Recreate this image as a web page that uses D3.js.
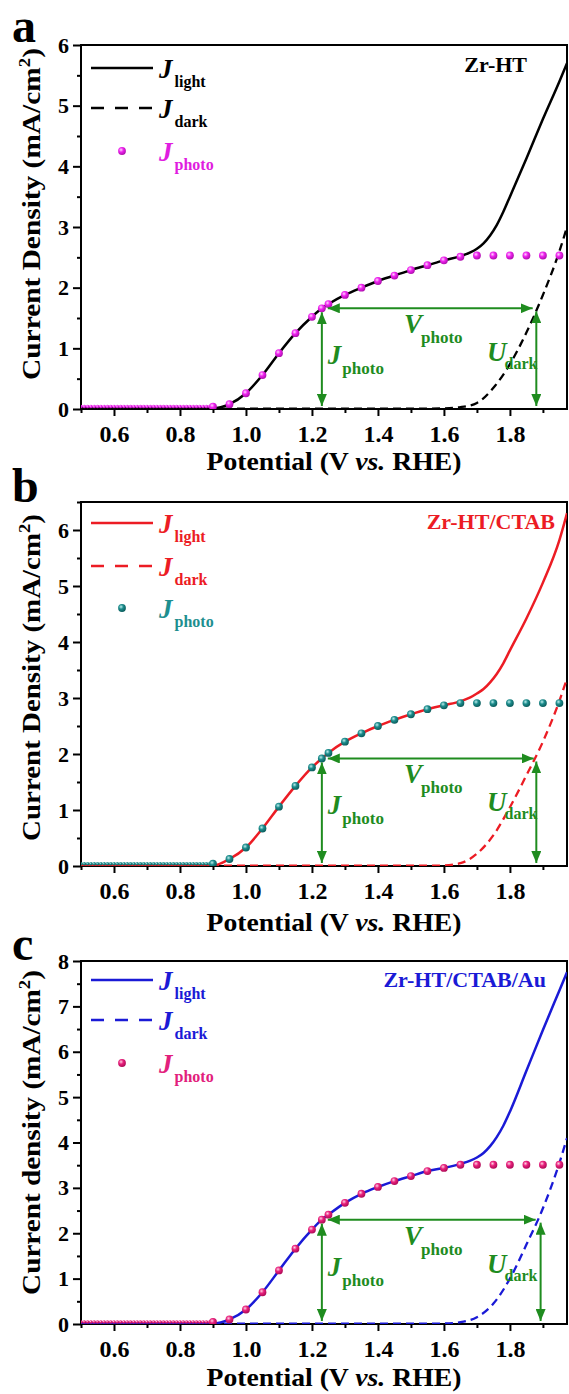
<!DOCTYPE html>
<html>
<head>
<meta charset="utf-8">
<script src="https://cdn.jsdelivr.net/npm/d3@7/dist/d3.min.js"></script>
<style>
  body { margin: 0; background: #fff; }
  svg { display: block; }
  text { font-family: "Liberation Serif", "Times New Roman", serif; font-weight: bold; }
</style>
</head>
<body>
<svg id="fig" width="569" height="1394"></svg>
<script>
// ---- Data (potential in V vs. RHE, current density in mA/cm^2) ----
const fineV = [0.50,0.51,0.52,0.53,0.54,0.55,0.56,0.57,0.58,0.59,0.60,0.61,0.62,0.63,0.64,0.65,0.66,0.67,0.68,0.69,
               0.70,0.71,0.72,0.73,0.74,0.75,0.76,0.77,0.78,0.79,0.80,0.81,0.82,0.83,0.84,0.85,0.86,0.87,0.88,0.89];
const aFine = [0.04,0.04,0.04,0.04,0.04,0.04,0.04,0.04,0.04,0.04,0.04,0.04,0.04,0.04,0.04,0.04,0.04,0.04,0.04,0.04,
               0.04,0.04,0.04,0.04,0.04,0.04,0.04,0.04,0.04,0.04,0.04,0.04,0.04,0.04,0.04,0.04,0.04,0.04,0.04,0.04];
const bFine = [0.04,0.04,0.04,0.04,0.04,0.04,0.04,0.04,0.04,0.04,0.04,0.04,0.04,0.04,0.04,0.04,0.04,0.04,0.04,0.04,
               0.04,0.04,0.04,0.04,0.04,0.04,0.04,0.04,0.04,0.04,0.04,0.04,0.04,0.04,0.04,0.04,0.04,0.04,0.04,0.04];
const cFine = [0.045,0.045,0.045,0.045,0.045,0.045,0.045,0.045,0.045,0.045,0.045,0.045,0.045,0.045,0.045,0.045,0.045,0.045,0.045,0.045,
               0.045,0.045,0.045,0.045,0.045,0.045,0.045,0.045,0.045,0.045,0.045,0.045,0.045,0.045,0.045,0.045,0.045,0.045,0.045,0.045];

const dotV   = [0.90,0.95,1.00,1.05,1.10,1.15,1.20,1.23,1.25,1.30,1.35,1.40,1.45,1.50,1.55,1.60,1.65,1.70,1.75,1.80,1.85,1.90,1.95];
const aPhoto = [0.04,0.08,0.26,0.56,0.92,1.25,1.52,1.66,1.73,1.88,2.00,2.11,2.20,2.29,2.37,2.45,2.51,2.53,2.53,2.53,2.53,2.53,2.53];
const bPhoto = [0.04,0.125,0.33,0.67,1.06,1.43,1.76,1.92,2.02,2.22,2.37,2.50,2.61,2.71,2.80,2.87,2.91,2.91,2.91,2.91,2.91,2.91,2.91];
const cPhoto = [0.045,0.10,0.32,0.70,1.18,1.66,2.08,2.30,2.41,2.67,2.87,3.02,3.15,3.26,3.37,3.44,3.51,3.51,3.51,3.51,3.51,3.51,3.51];

const lineV  = [0.50,0.70,0.90,0.95,1.00,1.05,1.10,1.15,1.20,1.23,1.25,1.30,1.35,1.40,1.45,1.50,1.55,1.60,1.65,
                1.68,1.70,1.72,1.74,1.76,1.78,1.80,1.85,1.90,1.95,1.973];
const aLight = [0.01,0.01,0.01,0.08,0.26,0.56,0.92,1.25,1.52,1.66,1.73,1.88,2.00,2.11,2.20,2.29,2.37,2.45,2.52,
                2.58,2.64,2.73,2.86,3.03,3.25,3.50,4.13,4.78,5.40,5.70];
const bLight = [0.01,0.01,0.01,0.125,0.33,0.67,1.06,1.43,1.76,1.92,2.02,2.22,2.37,2.50,2.61,2.71,2.80,2.87,2.94,
                3.01,3.08,3.16,3.28,3.43,3.62,3.85,4.42,5.06,5.82,6.30];
const cLight = [0.01,0.01,0.01,0.10,0.32,0.70,1.18,1.66,2.08,2.30,2.41,2.67,2.87,3.02,3.15,3.26,3.37,3.44,3.53,
                3.60,3.67,3.77,3.92,4.12,4.37,4.68,5.58,6.48,7.35,7.75];

const darkV  = [0.50,1.00,1.50,1.55,1.60,1.65,1.70,1.75,1.80,1.85,1.90,1.95,1.973];
const aDark  = [0.005,0.005,0.005,0.006,0.01,0.03,0.10,0.35,0.74,1.26,1.88,2.60,3.00];
const bDark  = [0.005,0.005,0.005,0.006,0.01,0.05,0.22,0.55,1.05,1.62,2.22,2.95,3.35];
const cDark  = [0.005,0.005,0.005,0.006,0.01,0.04,0.15,0.45,1.00,1.75,2.55,3.55,4.10];

// Annotation potentials: J_photo read at 1.23 V, U_dark where the dark curve reaches J_photo
const jPhotoV = 1.23;
const vPhotoStart = 1.248;
const uDarkV = [1.880, 1.880, 1.893];
const vPhotoEnd = [1.869, 1.872, 1.878];

// Axis ticks
const xMajor = [0.6,0.8,1.0,1.2,1.4,1.6,1.8];
const xMinor = [0.5,0.7,0.9,1.1,1.3,1.5,1.7,1.9];
const abYMajor = [0,1,2,3,4,5,6];
const aYMinor = [0.5,1.5,2.5,3.5,4.5,5.5];
const bYMinor = [0.5,1.5,2.5,3.5,4.5,5.5,6.5];
const cYMajor = [0,1,2,3,4,5,6,7,8];
const cYMinor = [0.5,1.5,2.5,3.5,4.5,5.5,6.5,7.5];

const xDomain = [0.5, 1.973];
const samples = ["Zr-HT", "Zr-HT/CTAB", "Zr-HT/CTAB/Au"];
const yTitles = ["Current Density", "Current Density", "Current density"];

// ---- Layout / styling of the three stacked panels ----
const panels = [
  { letter: "a", top: 45, bottom: 409, yMax: 6, yMajor: abYMajor, yMinor: aYMinor,
    light: aLight, dark: aDark, photo: aPhoto, fine: aFine,
    lineColor: "#000000", photoColor: "#ee22ee", photoHi: "#ffd6ff", photoLo: "#b010b0", photoText: "#e01de0",
    sampleRight: 527, sampleBase: 72, legY: [68, 108, 151], yTitleSpan: [48, 380], xTitleY: 470, letterY: 42 },
  { letter: "b", top: 502, bottom: 866, yMax: 6.5, yMajor: abYMajor, yMinor: bYMinor,
    light: bLight, dark: bDark, photo: bPhoto, fine: bFine,
    lineColor: "#ec1c24", photoColor: "#1c8c8c", photoHi: "#bdeeee", photoLo: "#0c5e5e", photoText: "#1e8f8f",
    sampleRight: 555, sampleBase: 529, legY: [523, 566, 608], yTitleSpan: [514, 841], xTitleY: 931, letterY: 502 },
  { letter: "c", top: 961, bottom: 1324, yMax: 8, yMajor: cYMajor, yMinor: cYMinor,
    light: cLight, dark: cDark, photo: cPhoto, fine: cFine,
    lineColor: "#1a1ad6", photoColor: "#e8207c", photoHi: "#ffd0e4", photoLo: "#b00c58", photoText: "#e2207c",
    sampleRight: 546, sampleBase: 987, legY: [980, 1020, 1063], yTitleSpan: [970, 1295], xTitleY: 1386, letterY: 960 }
];

const LEFT = 81, RIGHT = 567;
const GREEN = "#1f8c1f";
const svg = d3.select("#fig");
const defs = svg.append("defs");

defs.append("marker").attr("id", "ah").attr("viewBox", "0 0 12 10")
  .attr("refX", 12).attr("refY", 5).attr("markerWidth", 12).attr("markerHeight", 10)
  .attr("markerUnits", "userSpaceOnUse").attr("orient", "auto-start-reverse")
  .append("path").attr("d", "M0,0 L12,5 L0,10 Z").attr("fill", GREEN);

const x = d3.scaleLinear().domain(xDomain).range([LEFT, RIGHT]);

// Places a bold-italic symbol with a bold subscript
function symbolLabel(g, px, py, main, sub, color, mainSize, subSize, dx, dy) {
  const t = g.append("text").attr("x", px).attr("y", py).attr("fill", color);
  t.append("tspan").attr("font-style", "italic").attr("font-size", mainSize).text(main);
  t.append("tspan").attr("font-size", subSize).attr("dx", dx).attr("dy", dy).text(sub);
  return t;
}

panels.forEach((p, i) => {
  const g = svg.append("g");
  const y = d3.scaleLinear().domain([0, p.yMax]).range([p.bottom, p.top]);

  // gradient for the shaded photocurrent markers
  const grad = defs.append("radialGradient").attr("id", "ball" + i)
    .attr("cx", "0.38").attr("cy", "0.35").attr("r", "0.65");
  grad.append("stop").attr("offset", "0").attr("stop-color", p.photoHi);
  grad.append("stop").attr("offset", "0.45").attr("stop-color", p.photoColor);
  grad.append("stop").attr("offset", "1").attr("stop-color", p.photoLo);

  const clipId = "clip" + i;
  defs.append("clipPath").attr("id", clipId).append("rect")
    .attr("x", LEFT).attr("y", p.top).attr("width", RIGHT - LEFT).attr("height", p.bottom - p.top);

  // axes
  const xAxis = d3.axisBottom(x).tickValues(xMajor).tickSize(7).tickPadding(9).tickFormat(d3.format(".1f"));
  const xAxisMinor = d3.axisBottom(x).tickValues(xMinor).tickSize(4).tickFormat("");
  const yAxis = d3.axisLeft(y).tickValues(p.yMajor).tickSize(8).tickPadding(4).tickFormat(d3.format("d"));
  const yAxisMinor = d3.axisLeft(y).tickValues(p.yMinor).tickSize(4).tickFormat("");

  [[xAxis, 24], [xAxisMinor, 24]].forEach(([ax, fs]) => {
    const a = g.append("g").attr("transform", `translate(0,${p.bottom})`).call(ax);
    a.select(".domain").remove();
    a.selectAll("line").attr("stroke", "#000").attr("stroke-width", 2);
    a.selectAll("text").attr("font-size", fs).attr("fill", "#000").attr("font-family", null);
  });
  [[yAxis, 22], [yAxisMinor, 22]].forEach(([ax, fs]) => {
    const a = g.append("g").attr("transform", `translate(${LEFT},0)`).call(ax);
    a.select(".domain").remove();
    a.selectAll("line").attr("stroke", "#000").attr("stroke-width", 2);
    a.selectAll("text").attr("font-size", fs).attr("fill", "#000").attr("font-family", null);
  });

  // frame
  g.append("rect").attr("x", LEFT).attr("y", p.top).attr("width", RIGHT - LEFT).attr("height", p.bottom - p.top)
    .attr("fill", "none").attr("stroke", "#000").attr("stroke-width", 2);

  // curves
  const plot = g.append("g").attr("clip-path", `url(#${clipId})`);
  const line = d3.line().x(d => x(d[0])).y(d => y(d[1])).curve(d3.curveMonotoneX);
  plot.append("path").datum(darkV.map((v, k) => [v, p.dark[k]]))
    .attr("d", line).attr("fill", "none").attr("stroke", p.lineColor)
    .attr("stroke-width", 2.3).attr("stroke-dasharray", "8,5");
  plot.append("path").datum(lineV.map((v, k) => [v, p.light[k]]))
    .attr("d", line).attr("fill", "none").attr("stroke", p.lineColor).attr("stroke-width", 2.5);

  plot.selectAll("circle.fine").data(fineV.map((v, k) => [v, p.fine[k]])).join("circle")
    .attr("class", "fine").attr("cx", d => x(d[0])).attr("cy", d => y(d[1])).attr("r", 1.8)
    .attr("fill", `url(#ball${i})`);
  plot.selectAll("circle.big").data(dotV.map((v, k) => [v, p.photo[k]])).join("circle")
    .attr("class", "big").attr("cx", d => x(d[0])).attr("cy", d => y(d[1])).attr("r", 3.9)
    .attr("fill", `url(#ball${i})`);

  // annotation arrows
  const jp = p.photo[dotV.indexOf(jPhotoV)];
  const yLevel = y(jp);
  const arrowStyle = s => s.attr("stroke", GREEN).attr("stroke-width", 2)
    .attr("marker-start", "url(#ah)").attr("marker-end", "url(#ah)");
  g.append("line").attr("x1", x(vPhotoStart)).attr("x2", x(vPhotoEnd[i]))
    .attr("y1", yLevel).attr("y2", yLevel).call(arrowStyle);
  g.append("line").attr("x1", x(jPhotoV)).attr("x2", x(jPhotoV))
    .attr("y1", p.bottom - 3).attr("y2", yLevel + 4).call(arrowStyle);
  g.append("line").attr("x1", x(uDarkV[i])).attr("x2", x(uDarkV[i]))
    .attr("y1", p.bottom - 3).attr("y2", yLevel + 3).call(arrowStyle);

  symbolLabel(g, 404, yLevel + 25, "V", "photo", GREEN, 27, 17, -1, 10);
  symbolLabel(g, x(jPhotoV) + 6, yLevel + 56, "J", "photo", GREEN, 27, 17, 1, 10);
  symbolLabel(g, 487, yLevel + 53, "U", "dark", GREEN, 27, 16, -2, 8);

  // legend
  const legX0 = 91, legX1 = 153, legTX = 159;
  g.append("line").attr("x1", legX0).attr("x2", legX1).attr("y1", p.legY[0]).attr("y2", p.legY[0])
    .attr("stroke", p.lineColor).attr("stroke-width", 2.5);
  g.append("line").attr("x1", legX0).attr("x2", legX1).attr("y1", p.legY[1]).attr("y2", p.legY[1])
    .attr("stroke", p.lineColor).attr("stroke-width", 2.5).attr("stroke-dasharray", "13,11");
  g.append("circle").attr("cx", 122).attr("cy", p.legY[2]).attr("r", 3.9).attr("fill", `url(#ball${i})`);
  symbolLabel(g, legTX, p.legY[0] + 10, "J", "light", p.lineColor, 27, 16, 2, 9);
  symbolLabel(g, legTX, p.legY[1] + 10, "J", "dark", p.lineColor, 27, 16, 2, 9);
  symbolLabel(g, legTX, p.legY[2] + 10, "J", "photo", p.photoText, 27, 16, 2, 9);

  // sample name
  g.append("text").attr("x", p.sampleRight).attr("y", p.sampleBase).attr("text-anchor", "end")
    .attr("font-size", 22).attr("fill", p.lineColor).text(samples[i]);

  // panel letter
  g.append("text").attr("x", 12).attr("y", p.letterY).attr("font-size", 48).attr("fill", "#000").text(p.letter);

  // x title
  const xt = g.append("text").attr("text-anchor", "middle").attr("font-size", 25).attr("fill", "#000");
  xt.append("tspan").text("Potential (V ");
  xt.append("tspan").attr("font-style", "italic").text("vs.");
  xt.append("tspan").text(" RHE)");
  const xtw = xt.node().getComputedTextLength();
  xt.attr("transform", `translate(334,${p.xTitleY}) scale(${255 / xtw},1)`);

  // y title
  const yt = g.append("text").attr("text-anchor", "middle").attr("font-size", 25).attr("fill", "#000");
  yt.append("tspan").text(yTitles[i] + " (mA/cm");
  yt.append("tspan").attr("font-size", 16).attr("dy", -10).text("2");
  yt.append("tspan").attr("dy", 10).text(")");
  const ytw = yt.node().getComputedTextLength();
  const span = p.yTitleSpan;
  yt.attr("transform", `translate(40,${(span[0] + span[1]) / 2}) rotate(-90) scale(${(span[1] - span[0]) / ytw},1)`);
});
</script>
</body>
</html>
